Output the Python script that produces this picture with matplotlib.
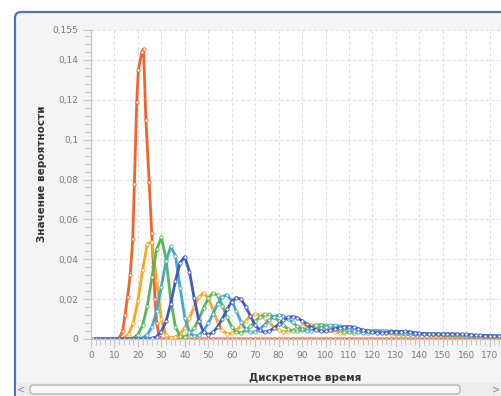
import numpy as np
import matplotlib.pyplot as plt
from matplotlib.patches import FancyBboxPatch, Rectangle

# discrete time grid of the four wide series
time_even = list(range(2, 186, 2))

red_time = [1, 3, 5, 7, 9, 11, 12, 13.5, 14.5, 15.6, 16.7, 17.8, 18.5, 19.5, 20.2,
            21.7, 22.4, 23.4, 24.8, 25.9, 26.6, 27.3, 28, 29, 30] + list(range(32, 186, 2))
red_prob = [0, 0, 0, 0, 0, 0, 0.0005, 0.004, 0.012, 0.021, 0.032, 0.050, 0.078, 0.119, 0.135,
            0.144, 0.1455, 0.110, 0.079, 0.053, 0.036, 0.020, 0.008, 0.002, 0] + [0] * 77

orange_prob = [0, 0, 0, 0, 0, 0,
               0.0006, 0.0025, 0.0080, 0.0192, 0.0346, 0.0477, 0.0487, 0.0294, 0.0098, 0.0019,
               0.0005, 0.0010, 0.0026, 0.0057, 0.0105, 0.0163, 0.0211, 0.0230, 0.0205, 0.0147,
               0.0085, 0.0043, 0.0026, 0.0028, 0.0043, 0.0067, 0.0092, 0.0114, 0.0125, 0.0121,
               0.0104, 0.0083, 0.0060, 0.0044, 0.0037, 0.0037, 0.0045, 0.0054, 0.0064, 0.0070,
               0.0072, 0.0067, 0.0062, 0.0052, 0.0043, 0.0035, 0.0032, 0.0032, 0.0034, 0.0038,
               0.0041, 0.0042, 0.0042, 0.0040, 0.0037, 0.0033, 0.0029, 0.0026, 0.0024, 0.0024,
               0.0025, 0.0025, 0.0026, 0.0025, 0.0024, 0.0023, 0.0021, 0.0019, 0.0018, 0.0017,
               0.0016, 0.0015, 0.0015, 0.0015, 0.0015, 0.0015, 0.0014, 0.0014, 0.0013, 0.0012,
               0.0011, 0.0011, 0.0010, 0.0010, 0.0009, 0.0009]

green_prob = [0, 0, 0, 0, 0, 0, 0, 0,
              0.0006, 0.0022, 0.0069, 0.0166, 0.0310, 0.0450, 0.0510, 0.0403, 0.0197, 0.0061,
              0.0014, 0.0011, 0.0026, 0.0055, 0.0100, 0.0155, 0.0205, 0.0231, 0.0219, 0.0168,
              0.0108, 0.0061, 0.0035, 0.0031, 0.0043, 0.0063, 0.0089, 0.0110, 0.0123, 0.0123,
              0.0110, 0.0092, 0.0068, 0.0051, 0.0040, 0.0038, 0.0043, 0.0052, 0.0061, 0.0069,
              0.0072, 0.0069, 0.0063, 0.0054, 0.0044, 0.0037, 0.0033, 0.0032, 0.0034, 0.0037,
              0.0040, 0.0042, 0.0042, 0.0041, 0.0037, 0.0034, 0.0029, 0.0026, 0.0025, 0.0024,
              0.0024, 0.0025, 0.0025, 0.0025, 0.0025, 0.0024, 0.0022, 0.0020, 0.0019, 0.0018,
              0.0017, 0.0016, 0.0016, 0.0015, 0.0015, 0.0015, 0.0014, 0.0014, 0.0013, 0.0012,
              0.0012, 0.0011, 0.0010, 0.0010]

lightblue_prob = [0, 0, 0, 0, 0, 0, 0, 0, 0, 0,
                  0.0006, 0.0021, 0.0061, 0.0140, 0.0263, 0.0390, 0.0464, 0.0418, 0.0257, 0.0107,
                  0.0033, 0.0014, 0.0020, 0.0042, 0.0079, 0.0127, 0.0178, 0.0213, 0.0221, 0.0192,
                  0.0139, 0.0086, 0.0048, 0.0033, 0.0036, 0.0051, 0.0071, 0.0095, 0.0112, 0.0120,
                  0.0116, 0.0102, 0.0083, 0.0063, 0.0048, 0.0041, 0.0041, 0.0048, 0.0056, 0.0062,
                  0.0068, 0.0068, 0.0064, 0.0057, 0.0048, 0.0040, 0.0034, 0.0031, 0.0032, 0.0034,
                  0.0037, 0.0040, 0.0040, 0.0040, 0.0038, 0.0034, 0.0030, 0.0027, 0.0025, 0.0024,
                  0.0023, 0.0024, 0.0026, 0.0025, 0.0025, 0.0024, 0.0023, 0.0022, 0.0020, 0.0019,
                  0.0018, 0.0017, 0.0016, 0.0016, 0.0015, 0.0015, 0.0014, 0.0013, 0.0013, 0.0012,
                  0.0011, 0.0011]

blue_prob = [0, 0, 0, 0, 0, 0, 0, 0, 0, 0, 0, 0,
             0.0003, 0.0012, 0.0037, 0.0089, 0.0178, 0.0290, 0.0383, 0.0412, 0.0337, 0.0204,
             0.0091, 0.0035, 0.0022, 0.0033, 0.0061, 0.0102, 0.0148, 0.0188, 0.0208, 0.0199,
             0.0162, 0.0114, 0.0070, 0.0043, 0.0034, 0.0040, 0.0054, 0.0074, 0.0094, 0.0108,
             0.0112, 0.0106, 0.0092, 0.0074, 0.0057, 0.0045, 0.0038, 0.0039, 0.0044, 0.0051,
             0.0057, 0.0062, 0.0062, 0.0059, 0.0052, 0.0045, 0.0038, 0.0033, 0.0031, 0.0031,
             0.0032, 0.0035, 0.0037, 0.0037, 0.0038, 0.0036, 0.0032, 0.0029, 0.0027, 0.0025,
             0.0024, 0.0024, 0.0024, 0.0026, 0.0026, 0.0025, 0.0024, 0.0023, 0.0021, 0.0019,
             0.0018, 0.0017, 0.0016, 0.0015, 0.0015, 0.0014, 0.0014, 0.0013, 0.0013, 0.0012]

x_ticks = list(range(0, 180, 10))
y_ticks = [0, 0.02, 0.04, 0.06, 0.08, 0.1, 0.12, 0.14, 0.155]
y_tick_labels = ['0', '0,02', '0,04', '0,06', '0,08', '0,1', '0,12', '0,14', '0,155']

W, H = 502, 396
fig = plt.figure(figsize=(W / 100, H / 100), dpi=100)
fig.patch.set_facecolor('white')

# window frame (rounded, blue border)
frame = FancyBboxPatch((15, -30), 530, H - 12 + 30, boxstyle='round,pad=0,rounding_size=6',
                       transform=None, facecolor='#f4f4f4', edgecolor='#4f74b0',
                       linewidth=1.6, zorder=-5)
fig.add_artist(frame)

# plot area: x=0 at px 91, 2.345 px per unit; y 0..0.155 from px 339 up to px 30
ax = fig.add_axes([91 / W, (H - 339) / H, 180 * 2.345 / W, 309 / H])
ax.set_facecolor('white')

series = [
    (red_time, red_prob, '#f3622d'),
    (time_even, orange_prob, '#fba71b'),
    (time_even, green_prob, '#57b757'),
    (time_even, lightblue_prob, '#41a9c9'),
    (time_even, blue_prob, '#4258c9'),
]
for xs, ys, c in series:
    ax.plot(xs, ys, color=c, linewidth=2.0, marker='o', markersize=2.4,
            markerfacecolor='white', markeredgecolor=c, markeredgewidth=0.6)

ax.set_xlim(0, 180)
ax.set_ylim(0, 0.155)
ax.set_xticks(x_ticks)
ax.set_xticklabels([str(t) for t in x_ticks])
ax.set_yticks(y_ticks)
ax.set_yticklabels(y_tick_labels)
ax.set_xticks(np.arange(0, 181, 2), minor=True)
ax.set_yticks(np.arange(0, 0.1551, 0.004), minor=True)

ax.grid(True, which='major', color='#e0e0e0', linestyle=(0, (3, 2)), linewidth=0.8)
ax.set_axisbelow(True)
for s in ['top', 'right']:
    ax.spines[s].set_visible(False)
for s in ['left', 'bottom']:
    ax.spines[s].set_color('#c4c4c4')
    ax.spines[s].set_linewidth(0.9)

ax.tick_params(which='major', direction='out', length=6, width=0.8, color='#c4c4c4',
               labelcolor='#7a7a7a', labelsize=6.5, pad=3)
ax.tick_params(which='minor', direction='out', length=4, width=0.7, color='#c4c4c4')

fig.text(305 / W, (H - 378) / H, 'Дискретное время', fontsize=7.5, fontweight='bold',
         color='#333333', ha='center', va='center')
fig.text(42 / W, (H - 174) / H, 'Значение вероятности', fontsize=7.5, fontweight='bold',
         color='#333333', ha='center', va='center', rotation=90)

# horizontal scroll bar at the bottom
fig.add_artist(Rectangle((16, 0), W - 16, 13, transform=None, facecolor='#ececec',
                         edgecolor='none', zorder=5))
fig.add_artist(FancyBboxPatch((30, 2), 430, 9, boxstyle='round,pad=0,rounding_size=3',
                              transform=None, facecolor='#f7f7f7', edgecolor='#a8a8a8',
                              linewidth=0.8, zorder=6))
fig.text(21 / W, 6.5 / H, '<', fontsize=7, color='#8a8a8a', ha='center', va='center', zorder=7)
fig.text(496 / W, 6.5 / H, '>', fontsize=7, color='#8a8a8a', ha='center', va='center', zorder=7)

fig.savefig('out.png', dpi=100)
